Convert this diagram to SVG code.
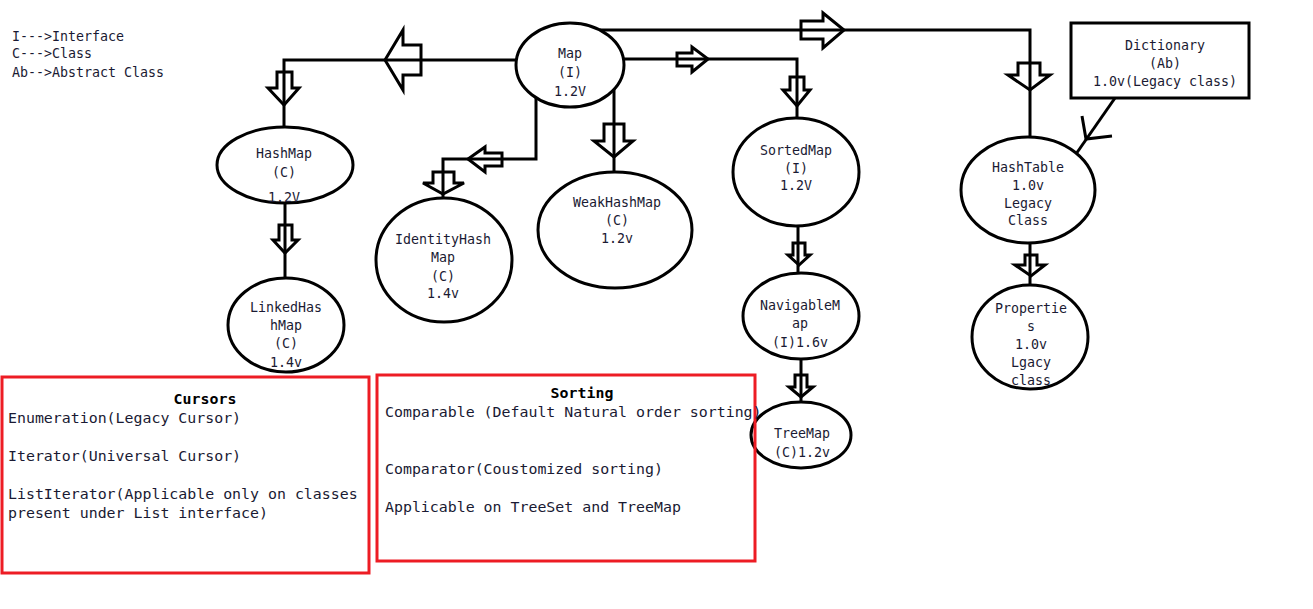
<svg xmlns="http://www.w3.org/2000/svg" width="1313" height="609" viewBox="0 0 1313 609">
  <style>
    .bg { fill: #ffffff; }
    .node { fill: #ffffff; stroke: #000000; stroke-width: 3; }
    .wire { fill: none; stroke: #000000; stroke-width: 3; }
    .hollow { fill: none; stroke: #000000; stroke-width: 3; stroke-linejoin: miter; }
    .note { fill: none; stroke: #ed1c24; stroke-width: 3; }
    text { font-family: "DejaVu Sans Mono", "Liberation Mono", monospace; fill: #1a1a33; }
    .t { font-size: 13.3px; text-anchor: middle; }
    .legend { font-size: 13.3px; }
    .body { font-size: 14.9px; }
    .title { font-size: 14.9px; font-weight: bold; text-anchor: middle; fill: #000000; }
  </style>

  <rect class="bg" x="0" y="0" width="1313" height="609"/>

  <!-- legend -->
  <g id="legend">
    <text class="legend" x="12" y="41">I---&gt;Interface</text>
    <text class="legend" x="12" y="58">C---&gt;Class</text>
    <text class="legend" x="12" y="77">Ab--&gt;Abstract Class</text>
  </g>

  <!-- connectors -->
  <g id="connectors">
    <polyline class="wire" points="516,60 284,60 284,127"/>
    <polyline class="wire" points="600,30 1030,30 1030,138"/>
    <polyline class="wire" points="624,59 797,59 797,118"/>
    <polyline class="wire" points="536,98 536,159 443,159 443,198"/>
    <line class="wire" x1="614" y1="89" x2="614" y2="173"/>
    <line class="wire" x1="285" y1="203" x2="285" y2="278"/>
    <line class="wire" x1="798" y1="226" x2="798" y2="273"/>
    <line class="wire" x1="801" y1="359" x2="801" y2="402"/>
    <line class="wire" x1="1030" y1="243" x2="1030" y2="285"/>
    <line class="wire" x1="1115" y1="98" x2="1076" y2="154"/>
    <polyline class="wire" points="1082,116 1086,139 1112,136"/>

    <!-- hollow block arrows -->
    <polygon class="hollow" points="421,45 403,45 403,30 385,60 403,90 403,75 421,75"/>
    <polygon class="hollow" points="277,72 277,88 268,88 284,105 299,88 292,88 292,72"/>
    <polygon class="hollow" points="801,21 823,21 823,13 844,30 823,48 823,39 801,39"/>
    <polygon class="hollow" points="677,53 692,53 692,47 708,59 692,72 692,66 677,66"/>
    <polygon class="hollow" points="790,77 790,90 783,90 797,106 810,90 804,90 804,77"/>
    <polygon class="hollow" points="1018,63 1018,75 1008,75 1030,90 1050,75 1040,75 1040,63"/>
    <polygon class="hollow" points="502,153 485,153 485,147 468,159 485,172 485,166 502,166"/>
    <polygon class="hollow" points="433,172 433,183 423,183 443,194 464,183 454,183 454,172"/>
    <polygon class="hollow" points="604,124 604,141 594,141 614,157 633,141 624,141 624,124"/>
    <polygon class="hollow" points="279,225 279,240 273,240 285,253 298,240 292,240 292,225"/>
    <polygon class="hollow" points="793,243 793,255 788,255 799,265 810,255 805,255 805,243"/>
    <polygon class="hollow" points="795,375 795,387 789,387 801,397 813,387 807,387 807,375"/>
    <polygon class="hollow" points="1025,255 1025,265 1015,265 1031,276 1045,265 1037,265 1037,255"/>
  </g>

  <!-- nodes -->
  <g id="map">
    <ellipse class="node" cx="570" cy="65" rx="54" ry="42"/>
    <text class="t" x="570" y="58">Map</text>
    <text class="t" x="570" y="77">(I)</text>
    <text class="t" x="570" y="96">1.2V</text>
  </g>

  <g id="hashmap">
    <ellipse class="node" cx="285" cy="165" rx="68" ry="38"/>
    <text class="t" x="284" y="158">HashMap</text>
    <text class="t" x="284" y="177">(C)</text>
    <text class="t" x="284" y="202">1.2V</text>
  </g>

  <g id="linkedhashmap">
    <ellipse class="node" cx="286" cy="325" rx="58" ry="47"/>
    <text class="t" x="286" y="312">LinkedHas</text>
    <text class="t" x="286" y="330">hMap</text>
    <text class="t" x="286" y="348">(C)</text>
    <text class="t" x="286" y="367">1.4v</text>
  </g>

  <g id="identityhashmap">
    <ellipse class="node" cx="444" cy="260" rx="68" ry="62"/>
    <text class="t" x="443" y="244">IdentityHash</text>
    <text class="t" x="443" y="262">Map</text>
    <text class="t" x="443" y="281">(C)</text>
    <text class="t" x="443" y="298">1.4v</text>
  </g>

  <g id="weakhashmap">
    <ellipse class="node" cx="615" cy="230" rx="77" ry="58"/>
    <text class="t" x="617" y="207">WeakHashMap</text>
    <text class="t" x="617" y="225">(C)</text>
    <text class="t" x="617" y="243">1.2v</text>
  </g>

  <g id="sortedmap">
    <ellipse class="node" cx="796" cy="172" rx="63" ry="54"/>
    <text class="t" x="796" y="155">SortedMap</text>
    <text class="t" x="796" y="173">(I)</text>
    <text class="t" x="796" y="190">1.2V</text>
  </g>

  <g id="navigablemap">
    <ellipse class="node" cx="801" cy="316" rx="58" ry="43"/>
    <text class="t" x="800" y="310">NavigableM</text>
    <text class="t" x="800" y="328">ap</text>
    <text class="t" x="800" y="347">(I)1.6v</text>
  </g>

  <g id="treemap">
    <ellipse class="node" cx="801" cy="435" rx="50" ry="33"/>
    <text class="t" x="802" y="438">TreeMap</text>
    <text class="t" x="802" y="457">(C)1.2v</text>
  </g>

  <g id="hashtable">
    <ellipse class="node" cx="1028" cy="190" rx="67" ry="53"/>
    <text class="t" x="1028" y="172">HashTable</text>
    <text class="t" x="1028" y="190">1.0v</text>
    <text class="t" x="1028" y="208">Legacy</text>
    <text class="t" x="1028" y="225">Class</text>
  </g>

  <g id="properties">
    <ellipse class="node" cx="1030" cy="337" rx="58" ry="52"/>
    <text class="t" x="1031" y="313">Propertie</text>
    <text class="t" x="1031" y="331">s</text>
    <text class="t" x="1031" y="349">1.0v</text>
    <text class="t" x="1031" y="367">Lgacy</text>
    <text class="t" x="1031" y="385">class</text>
  </g>

  <g id="dictionary">
    <rect class="node" x="1071" y="23" width="178" height="75"/>
    <text class="t" x="1165" y="50">Dictionary</text>
    <text class="t" x="1165" y="68">(Ab)</text>
    <text class="t" x="1165" y="86">1.0v(Legacy class)</text>
  </g>

  <!-- note boxes -->
  <g id="cursors">
    <rect class="note" x="2" y="377" width="367" height="196"/>
    <text class="title" x="205" y="404">Cursors</text>
    <text class="body" x="8" y="423">Enumeration(Legacy Cursor)</text>
    <text class="body" x="8" y="461">Iterator(Universal Cursor)</text>
    <text class="body" x="8" y="499">ListIterator(Applicable only on classes</text>
    <text class="body" x="8" y="518">present under List interface)</text>
  </g>

  <g id="sorting">
    <rect class="note" x="377" y="375" width="378" height="186"/>
    <text class="title" x="582" y="398">Sorting</text>
    <text class="body" x="385" y="417">Comparable (Default Natural order sorting)</text>
    <text class="body" x="385" y="474">Comparator(Coustomized sorting)</text>
    <text class="body" x="385" y="512">Applicable on TreeSet and TreeMap</text>
  </g>
</svg>
